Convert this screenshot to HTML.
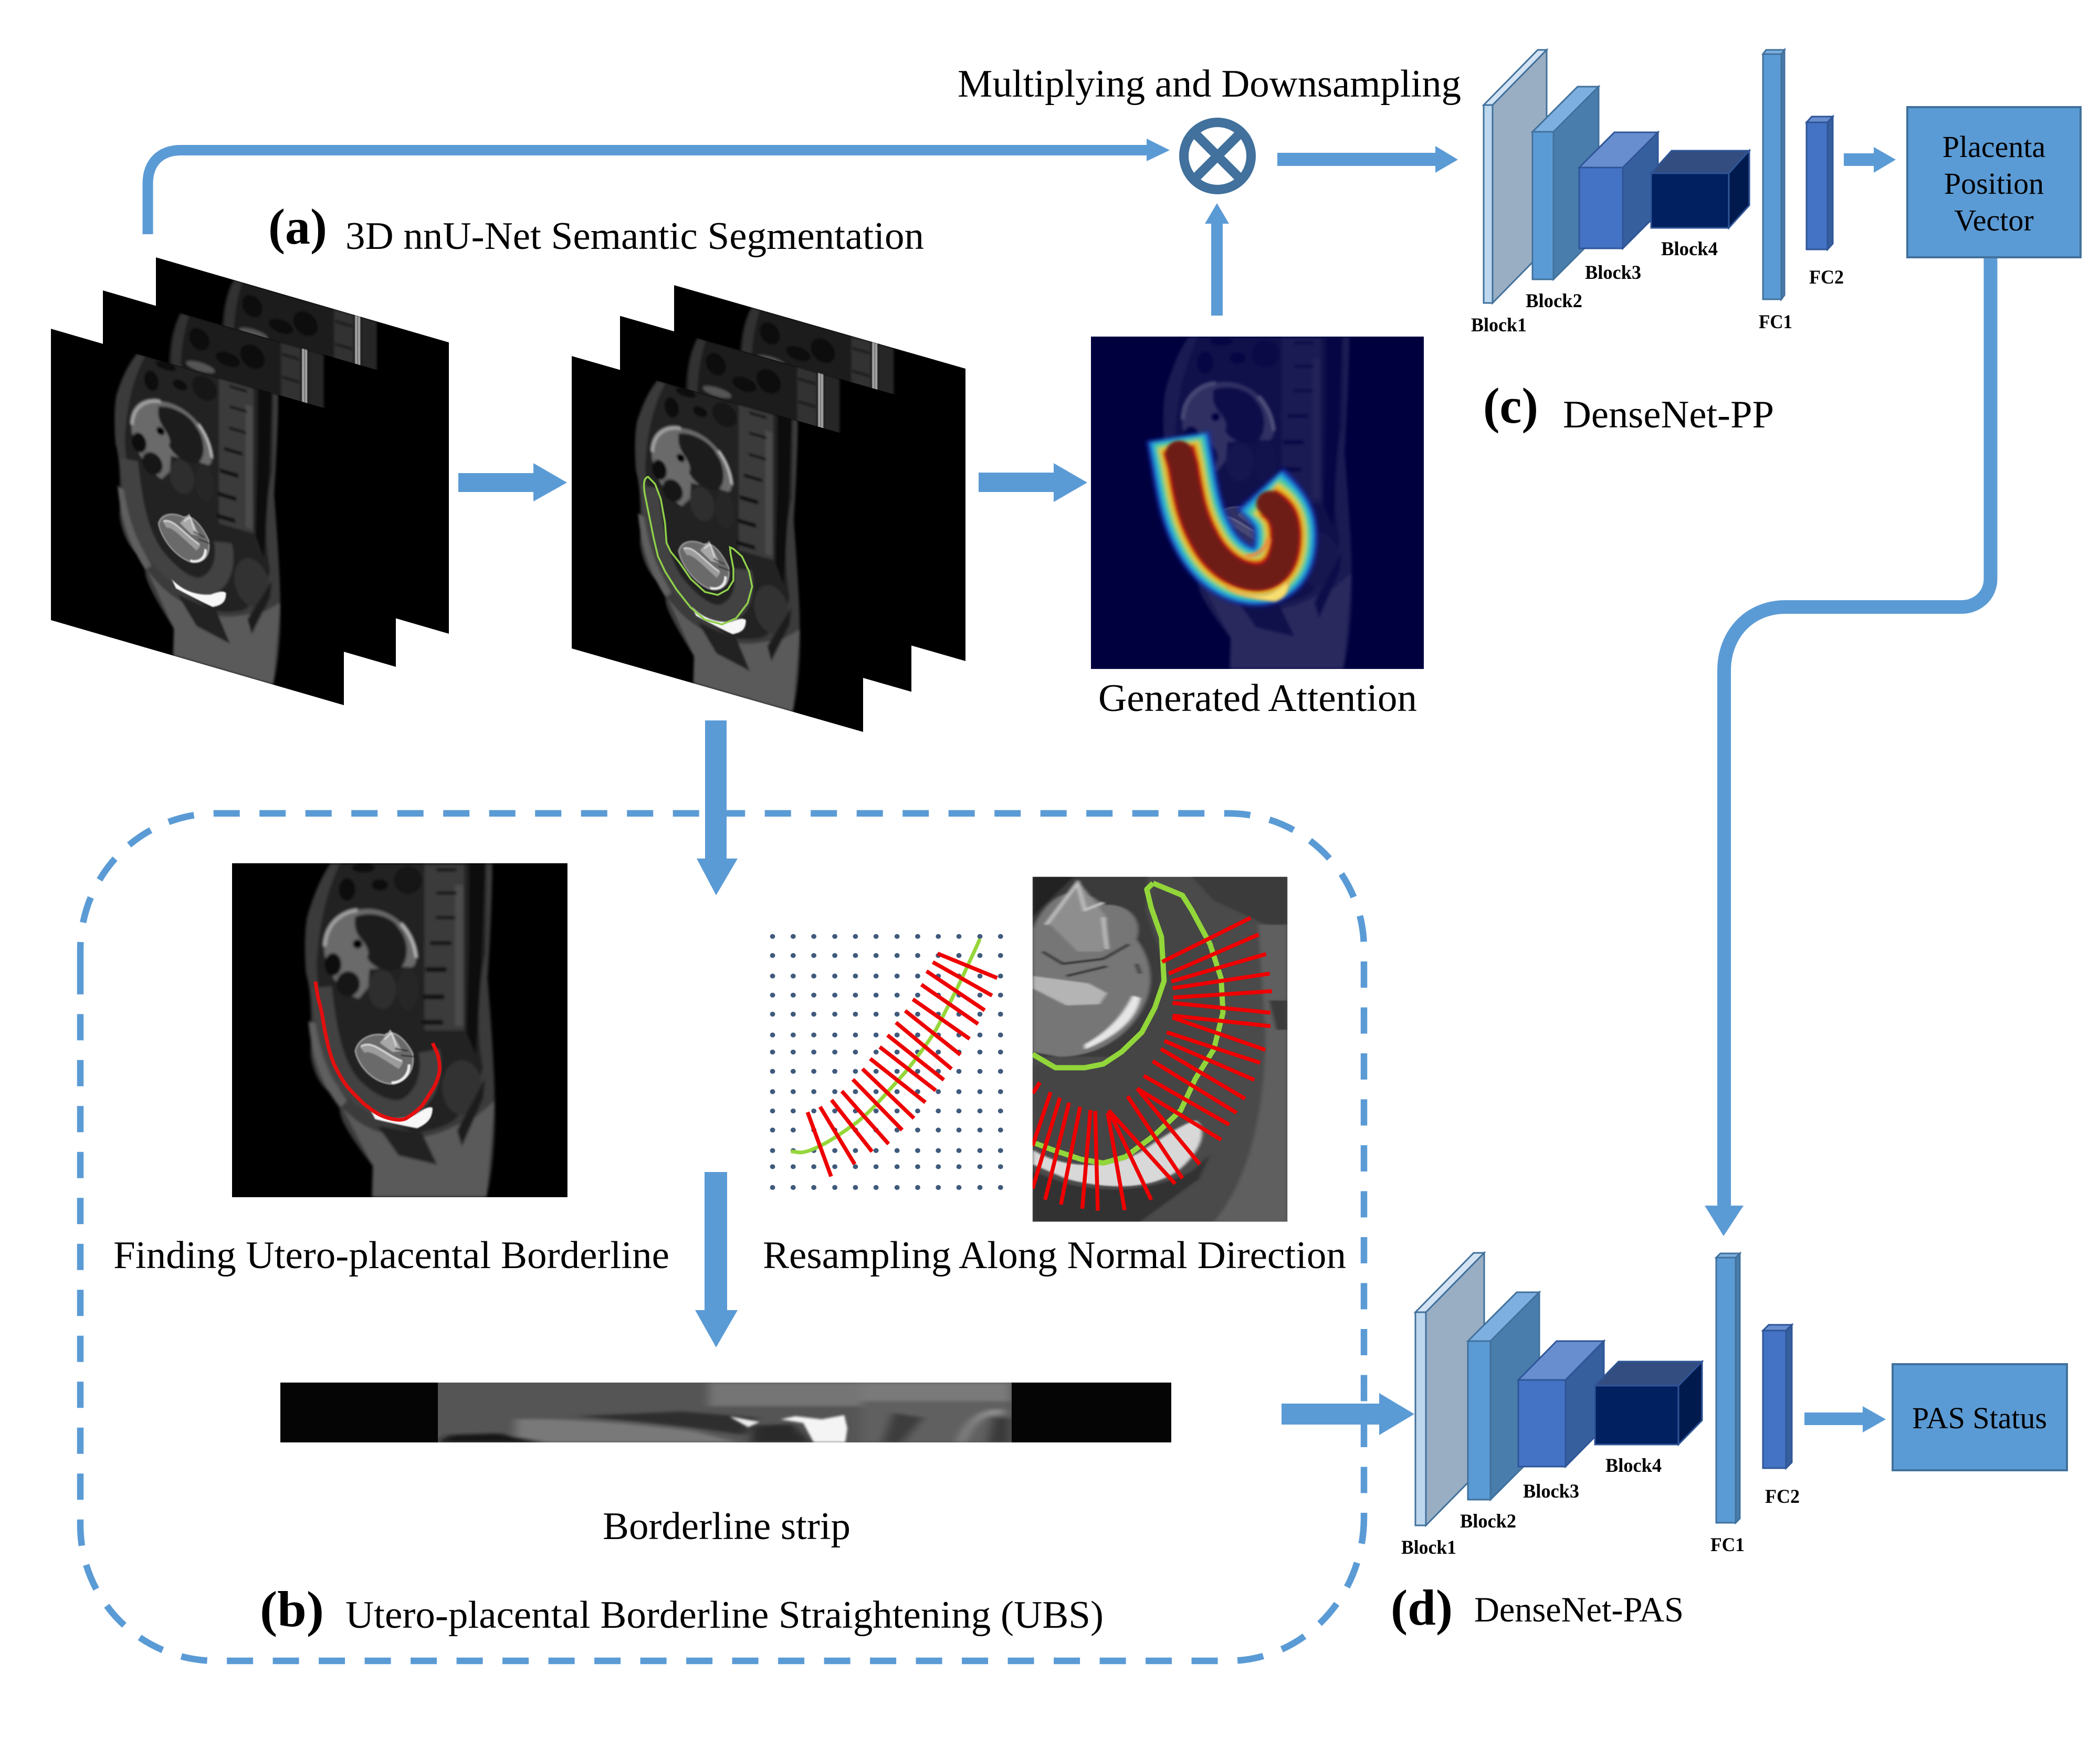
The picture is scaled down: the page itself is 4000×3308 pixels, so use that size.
<!DOCTYPE html>
<html>
<head>
<meta charset="utf-8">
<style>
html,body{margin:0;padding:0;background:#fff}
svg{display:block}
text{font-family:"Liberation Serif","Times New Roman",serif;fill:#000}
.t{font-size:74px}
.b{font-size:37px;font-weight:bold}
.p{font-size:96px;font-weight:bold}
</style>
</head>
<body>
<svg xmlns="http://www.w3.org/2000/svg" width="4000" height="3308" viewBox="0 0 4000 3308">
<defs>
<clipPath id="mc"><rect x="49" y="55" width="1432" height="1468"/></clipPath>
<clipPath id="cc"><rect x="808" y="64" width="692" height="1411"/></clipPath>
<filter id="b3" x="-5%" y="-5%" width="110%" height="110%"><feGaussianBlur stdDeviation="6"/></filter>
<filter id="b2" x="-5%" y="-5%" width="110%" height="110%"><feGaussianBlur stdDeviation="2.5"/></filter>
<filter id="b1" x="-5%" y="-5%" width="110%" height="110%"><feGaussianBlur stdDeviation="5 3"/></filter>
<filter id="bh" filterUnits="userSpaceOnUse" x="0" y="0" width="1568" height="1568"><feGaussianBlur stdDeviation="8"/></filter>
<filter id="bc" filterUnits="userSpaceOnUse" x="0" y="0" width="1568" height="1568"><feGaussianBlur stdDeviation="6"/></filter>
<filter id="bs" x="-10%" y="-30%" width="120%" height="160%"><feGaussianBlur stdDeviation="9 3"/></filter>

<g id="mri" clip-path="url(#mc)">
 <rect x="49" y="55" width="1432" height="1468" fill="#000"/>
 <g filter="url(#b3)">
  <path d="M470,55 C420,130 390,220 370,290 C355,370 360,480 365,540 C395,640 385,800 385,900 C400,1000 440,1050 500,1090 L510,1140 C505,1190 600,1320 650,1385 L645,1523 L1135,1523 C1165,1400 1175,1200 1170,1100 C1170,950 1150,700 1140,560 C1150,400 1160,200 1160,55 Z" fill="#3a3a3a"/>
  <path d="M510,55 C450,180 420,330 410,500 C420,700 450,880 510,1010 C600,1130 680,1190 840,1240 C950,1220 1000,1190 1010,1170 C1060,1100 1110,1020 1120,950 C1090,800 1100,600 1130,450 L1135,55 Z" fill="#242424"/>
  <path d="M520,1130 C600,1220 700,1260 840,1260 C950,1250 1010,1200 1090,1170 L1170,1100 L1135,1523 L650,1523 L650,1385 Z" fill="#5a5a5a"/>
  <path d="M375,750 C390,900 420,1010 510,1130 L540,1100 C470,1000 430,880 410,760 Z" fill="#5e5e5e"/>
  <ellipse cx="1030" cy="1040" rx="85" ry="120" fill="#333"/>
  <path d="M670,1210 L860,1240 L925,1380 L760,1340 Z" fill="#222"/>
  <path d="M1010,1230 L1130,1000 L1120,1090 L1030,1300 Z" fill="#1c1c1c"/>
  <path d="M1060,55 L1130,55 L1115,500 L1090,900 L1050,800 L1060,400 Z" fill="#111"/>
  <rect x="870" y="60" width="170" height="730" fill="#3a3a3a"/>
  <rect x="1000" y="150" width="35" height="620" fill="#4c4c4c"/>
  <rect x="922" y="78" width="85" height="12" fill="#0c0c0c"/>
  <rect x="922" y="180" width="85" height="12" fill="#0c0c0c"/>
  <rect x="918" y="288" width="85" height="12" fill="#0c0c0c"/>
  <rect x="895" y="398" width="90" height="16" fill="#080808"/>
  <rect x="875" y="512" width="90" height="20" fill="#080808"/>
  <rect x="865" y="632" width="90" height="20" fill="#080808"/>
  <rect x="860" y="744" width="90" height="20" fill="#080808"/>
  <path d="M430,600 C450,800 480,950 560,1040 C650,1130 740,1160 800,1130 C880,1080 910,980 890,880" fill="none" stroke="#424242" stroke-width="90"/>
  <path d="M445,400 C450,300 540,260 590,260 C700,240 800,310 835,430 C840,490 830,520 800,510 L635,520 L630,600 L590,650 C500,620 430,500 445,400 Z" fill="#6a6a6a"/>
  <path d="M445,420 C450,310 530,265 585,262" fill="none" stroke="#a8a8a8" stroke-width="14"/>
  <path d="M575,290 C640,260 740,290 760,340 C800,380 810,470 770,515 C720,540 650,520 625,470 C640,440 620,420 610,400 C570,360 570,320 575,290 Z" fill="#1c1c1c"/>
  <ellipse cx="480" cy="500" rx="36" ry="50" fill="#0e0e0e"/>
  <ellipse cx="545" cy="585" rx="50" ry="55" fill="#141414"/>
  <circle cx="585" cy="410" r="20" fill="#000"/>
  <path d="M770,320 Q825,380 835,470" fill="none" stroke="#c8c8c8" stroke-width="10"/>
  <ellipse cx="690" cy="610" rx="60" ry="85" fill="#2e2e2e"/>
  <ellipse cx="800" cy="610" rx="45" ry="90" fill="#282828"/>
  <ellipse cx="540" cy="170" rx="35" ry="50" fill="#0e0e0e"/>
  <ellipse cx="680" cy="150" rx="35" ry="25" fill="#0c0c0c"/>
  <ellipse cx="610" cy="75" rx="50" ry="20" fill="#0c0c0c"/>
  <ellipse cx="800" cy="130" rx="60" ry="60" fill="#181818"/>
 </g>
 <g filter="url(#b2)">
  <path d="M575,880 C590,820 650,800 700,810 C740,780 790,830 820,890 C830,960 800,1010 740,1025 C670,1030 590,960 575,880 Z" fill="#6a6a6a" stroke="#a0a0a0" stroke-width="6"/>
  <path d="M605,875 C640,850 700,900 770,945" fill="none" stroke="#9c9c9c" stroke-width="34"/>
  <path d="M600,860 C650,830 690,890 775,925" fill="none" stroke="#dcdcdc" stroke-width="7"/>
  <path d="M680,845 L725,785 L775,880 L735,885 Z" fill="#a8a8a8"/>
  <path d="M700,830 L730,800 L750,860" fill="none" stroke="#e4e4e4" stroke-width="5"/>
  <path d="M770,900 L825,905 M745,870 L800,880" fill="none" stroke="#2a2a2a" stroke-width="6"/>
  <path d="M805,940 C805,990 770,1020 730,1020" fill="none" stroke="#f0f0f0" stroke-width="11"/>
  <path d="M640,1140 C700,1190 780,1180 830,1160 C860,1140 890,1120 905,1130 C905,1180 880,1200 840,1220 C780,1210 700,1190 660,1180 Z" fill="#f7f7f7"/>
 </g>
</g>

<g id="mriB" clip-path="url(#mc)">
 <rect x="49" y="55" width="1432" height="1468" fill="#000"/>
 <g filter="url(#b3)">
  <path d="M430,55 C390,130 360,250 370,500 L1130,700 L1130,55 Z" fill="#1c1c1c"/>
  <path d="M430,55 C400,130 380,230 385,330 L430,330 C430,220 450,130 470,55 Z" fill="#333"/>
  <ellipse cx="520" cy="160" rx="50" ry="55" fill="#0a0a0a"/>
  <ellipse cx="660" cy="220" rx="60" ry="35" fill="#0c0c0c"/>
  <ellipse cx="780" cy="170" rx="60" ry="60" fill="#101010"/>
  <ellipse cx="526" cy="298" rx="70" ry="22" fill="#555"/>
  <rect x="920" y="55" width="95" height="700" fill="#333"/>
  <rect x="925" y="110" width="85" height="10" fill="#080808"/>
  <rect x="925" y="225" width="85" height="10" fill="#080808"/>
  <rect x="925" y="340" width="85" height="10" fill="#080808"/>
  <rect x="1055" y="55" width="70" height="700" fill="#262626"/>
 </g>
 <g filter="url(#b2)">
  <rect x="1022" y="55" width="26" height="700" fill="#b0b0b0"/>
  <rect x="1032" y="55" width="6" height="700" fill="#555"/>
 </g>
</g>

<g id="dr" fill="#3f5a7c">
 <ellipse cx="102" cy="0" rx="7" ry="10"/><ellipse cx="158" cy="0" rx="7" ry="10"/><ellipse cx="214" cy="0" rx="7" ry="10"/><ellipse cx="271" cy="0" rx="7" ry="10"/><ellipse cx="327" cy="0" rx="7" ry="10"/><ellipse cx="383" cy="0" rx="7" ry="10"/><ellipse cx="440" cy="0" rx="7" ry="10"/><ellipse cx="496" cy="0" rx="7" ry="10"/><ellipse cx="552" cy="0" rx="7" ry="10"/><ellipse cx="608" cy="0" rx="7" ry="10"/><ellipse cx="665" cy="0" rx="7" ry="10"/><ellipse cx="721" cy="0" rx="7" ry="10"/>
</g>
</defs>

<!-- stack 1 -->
<use href="#mriB" transform="matrix(.38966,.11313,0,.37807,277.91,463.67)"/>
<use href="#mriB" transform="matrix(.38966,.11313,0,.37807,176.91,526.67)"/>
<use href="#mri" transform="matrix(.38966,.11313,0,.37807,77.91,599.67)"/>

<!-- stack 2 -->
<use href="#mriB" transform="matrix(.38757,.11103,0,.37943,1265.01,516.69)"/>
<use href="#mriB" transform="matrix(.38757,.11103,0,.37943,1162.01,575.19)"/>
<use href="#mri" transform="matrix(.38757,.11103,0,.37943,1070.01,651.69)"/>
<g transform="translate(1050,520) scale(.5421,.574)">
 <path d="M340,676 C325,680 322,700 330,740 L345,810 L360,880 L375,940 L400,990 L440,1050 L490,1110 L540,1150 L600,1166 L650,1145 L690,1095 L706,1040 L695,990 L670,940 L640,915 L628,910 L630,930 L640,980 L640,1020 L620,1050 L585,1068 L540,1058 L490,1015 L450,960 L420,925 L405,895 L400,830 L385,750 L365,700 Z" fill="none" stroke="#8fd04a" stroke-width="3.5" vector-effect="non-scaling-stroke"/>
</g>

<!-- attention -->
<rect x="2078" y="641" width="634" height="633" fill="#00003f"/>
<use href="#mri" transform="matrix(.4427,0,0,.4312,2056.3,617.3)" style="mix-blend-mode:screen;opacity:.45"/>
<g transform="translate(2000,600) scale(.5102,.4783)" fill="none" stroke-linejoin="round">
 <g filter="url(#bh)">
  <path d="M478,482 L497,600 C515,720 530,800 570,880 C620,990 700,1040 770,1040 C860,1040 880,950 880,880 C880,810 860,770 785,690" stroke="#1a30b0" stroke-width="240" opacity=".9"/>
  <path d="M478,490 L497,600 C515,720 530,800 570,880 C620,990 700,1040 770,1040 C860,1040 880,950 880,880 C880,810 860,770 790,702" stroke="#1fa0e0" stroke-width="212"/>
  <path d="M480,500 L497,600 C515,720 530,800 570,880 C620,990 700,1040 770,1040 C860,1040 880,950 880,880 C880,810 860,770 797,715" stroke="#55d090" stroke-width="185"/>
  <path d="M480,515 L497,600 C515,720 530,800 570,880 C620,990 700,1040 770,1040 C860,1040 880,950 880,880 C880,810 860,770 805,730" stroke="#e8c828" stroke-width="155"/>
  <path d="M480,528 L497,600 C515,720 530,800 570,880 C620,990 700,1040 770,1040 C860,1040 880,950 880,880 C880,810 860,770 810,745" stroke="#c81212" stroke-width="125"/>
 </g>
</g>
<g transform="translate(2000,600) scale(.5102,.4783)" fill="none" filter="url(#bc)">
 <path d="M482,550 L497,600 C515,720 530,800 570,880 C620,990 700,1040 770,1045 C860,1045 880,950 880,880 C880,810 860,780 820,750" stroke="#6e1c18" stroke-width="100" stroke-linecap="round"/>
 <path d="M660,1075 C700,1110 780,1130 830,1105 C860,1085 885,1065 888,1060 C895,1095 880,1125 840,1140 C780,1135 700,1115 670,1090 Z" fill="#f8e070" stroke="#f07020" stroke-width="3"/>
 <path d="M730,960 C770,960 810,930 815,890" stroke="#f08840" stroke-width="14"/>
</g>

<!-- finding panel -->
<use href="#mri" transform="matrix(.4462,0,0,.4332,420.1,1620.2)"/>
<g transform="translate(420,1620) scale(.4464,.4337)">
 <path d="M405,575 L415,640 L430,700 L445,790 L460,860 C470,900 480,930 490,950 C510,990 525,1015 540,1035 C565,1065 590,1090 610,1110 C640,1135 660,1150 680,1160 C710,1175 735,1180 760,1182 C780,1182 790,1178 800,1170 C825,1155 845,1135 860,1120 C880,1090 895,1065 910,1040 C925,1010 933,985 935,960 C935,930 930,905 925,890 L905,845" fill="none" stroke="#e30f0f" stroke-width="7" stroke-linejoin="round" vector-effect="non-scaling-stroke"/>
</g>

<!-- resampling diagram -->
<g transform="translate(1400,1640) scale(.7015,.4655)">
 <use href="#dr" y="308"/><use href="#dr" y="386"/><use href="#dr" y="470"/><use href="#dr" y="548"/><use href="#dr" y="626"/><use href="#dr" y="711"/><use href="#dr" y="781"/><use href="#dr" y="860"/><use href="#dr" y="943"/><use href="#dr" y="1022"/><use href="#dr" y="1100"/><use href="#dr" y="1184"/><use href="#dr" y="1250"/><use href="#dr" y="1335"/>
 <path d="M665,318 C650,370 640,400 625,450 C610,500 600,530 580,590 C565,630 555,670 535,715 C520,750 505,780 475,840 C460,870 440,900 405,960 C390,985 370,1020 330,1070 C310,1090 290,1115 250,1150 C220,1175 195,1192 175,1192 L152,1187" fill="none" stroke="#95d63a" stroke-width="7" vector-effect="non-scaling-stroke"/>
 <path vector-effect="non-scaling-stroke" d="M550,378L712,478M537,413L698,550M520,450L678,610M506,505L660,666M483,565L637,727M462,612L612,792M437,660L588,850M414,712L567,895M393,760L545,938M367,808L517,987M346,850L486,1052M320,893L454,1100M290,941L417,1157M262,977L372,1188M231,1005L325,1240M197,1027L261,1290" fill="none" stroke="#ee0000" stroke-width="7.5"/>
</g>

<!-- close-up -->
<g transform="translate(1400,1640) scale(.7015,.4655)" clip-path="url(#cc)">
 <rect x="808" y="64" width="692" height="1411" fill="#4a4a4a"/>
 <g filter="url(#b1)">
  <path d="M808,64 H1120 L1115,200 L1160,400 L1150,600 L1050,800 L808,800 Z" fill="#3a3a3a"/>
  <path d="M808,64 H920 L840,180 L808,230 Z" fill="#202020"/>
  <path d="M1240,64 H1500 V300 L1400,230 L1300,160 Z" fill="#3a3a3a"/>
  <path d="M1420,260 H1500 V1475 H1300 C1400,1300 1440,1000 1440,700 Z" fill="#5e5e5e"/>
  <path d="M1450,570 H1500 V690 H1470 Z" fill="#3a3a3a"/>
  <path d="M1135,90 L1215,140 L1240,200 L1290,340 L1320,480 L1325,620 L1300,770 L1250,890 L1210,1020 L1140,1120 L1060,1210 L1000,1235 L940,1220 L860,1180 L808,1150 L808,830 L870,845 L950,845 L1000,830 L1050,780 L1105,700 L1140,600 L1165,490 L1158,310 L1130,190 Z" fill="#454545"/>
  <path d="M808,280 C850,130 930,80 1000,180 C1060,170 1110,230 1090,320 C1130,400 1140,500 1110,590 C1080,690 1000,800 880,800 L808,780 Z" fill="#767676"/>
  <path d="M935,90 L1010,230 L1000,370 L930,370 L850,250 Z" fill="#8e8e8e"/>
  <path d="M808,470 L960,500 L1010,540 L990,585 L900,590 L808,520 Z" fill="#b4b4b4"/>
  <path d="M950,770 C1030,720 1090,650 1100,560 L1080,550 C1050,640 1010,700 950,750 Z" fill="#e6e6e6"/>
  <path d="M845,260 L930,90 L950,200 L1000,170 M1000,230 L1010,360" fill="none" stroke="#c4c4c4" stroke-width="9"/>
  <path d="M835,370 L890,420 L1000,400 L1070,340 M1090,420 L1100,460 M900,470 L1010,430" fill="none" stroke="#383838" stroke-width="10"/>
  <path d="M808,1180 C900,1270 1040,1260 1120,1170 C1200,1090 1230,1070 1250,1060 C1290,1100 1260,1200 1200,1270 C1120,1350 1000,1340 900,1300 L808,1240 Z" fill="#d8d8d8"/>
  <path d="M808,1270 L900,1320 C1000,1355 1120,1360 1240,1270 L1290,1200 L1260,1300 L1100,1475 L808,1475 Z" fill="#323232"/>
 </g>
 <path d="M1135,90 L1118,115 L1130,190 L1158,310 L1165,490 L1140,600 L1105,700 L1050,780 L1000,830 L950,845 L870,845 L808,790 M1135,90 L1215,140 L1240,200 L1290,340 L1320,480 L1325,620 L1300,770 L1250,890 L1210,1020 L1140,1120 L1060,1210 L1000,1235 L940,1220 L860,1180 L808,1150" fill="none" stroke="#92d63a" stroke-width="10" vector-effect="non-scaling-stroke" stroke-linejoin="round"/>
 <path d="M1160,412L1400,232M1178,460L1422,300M1185,492L1442,380M1188,520L1452,460M1190,558L1458,532M1188,580L1454,620M1188,632L1454,675M1188,640L1440,772M1172,700L1426,825M1166,735L1410,895M1156,768L1385,972M1134,818L1362,1030M1110,878L1342,1078M1092,930L1320,1140M1092,930L1262,1240M1066,962L1215,1298M1015,1020L1195,1320M1015,1020L1130,1385M1012,1030L1058,1428M978,1022L985,1430M965,1018L943,1422M937,1005L885,1405M907,988L842,1385M882,968L808,1340M857,945L808,1165M828,905L808,950" fill="none" stroke="#ee0000" stroke-width="7.5" vector-effect="non-scaling-stroke"/>
</g>

<!-- strip -->
<rect x="534" y="2633" width="1697" height="114" fill="#050505"/>
<clipPath id="sc"><rect x="834" y="2633" width="1093" height="114"/></clipPath>
<g clip-path="url(#sc)">
 <rect x="834" y="2633" width="1093" height="114" fill="#555"/>
 <g filter="url(#bs)">
  <rect x="1350" y="2633" width="300" height="45" fill="#747474"/>
  <rect x="1640" y="2633" width="287" height="35" fill="#7a7a7a"/>
  <path d="M1640,2668 H1927 V2747 H1640 Z" fill="#606060"/>
  <path d="M1097,2697 C1200,2705 1300,2715 1418,2733 L1440,2700 L1300,2688 Z" fill="#2f2f2f"/>
  <path d="M982,2703 C1060,2700 1200,2710 1320,2725 L1407,2747 L982,2747 Z" fill="#797979"/>
  <path d="M834,2747 L856,2733 L950,2730 L1040,2747 Z" fill="#141414"/>
  <path d="M1430,2747 L1435,2715 L1510,2712 L1545,2747 Z" fill="#2a2a2a"/>
  <path d="M1700,2690 L1760,2700 L1720,2747 L1680,2747 Z" fill="#3e3e3e"/>
  <path d="M1830,2747 C1850,2700 1880,2685 1910,2690" fill="none" stroke="#8e8e8e" stroke-width="10"/>
  <path d="M1890,2700 L1925,2700 L1925,2747 L1880,2747 Z" fill="#3a3a3a"/>
 </g>
 <g filter="url(#b2)">
  <path d="M1390,2698 L1405,2700 L1447,2708 L1425,2718 Z" fill="#ececec"/>
  <path d="M1487,2703 L1515,2697 L1565,2703 L1608,2695 L1614,2720 L1610,2747 L1550,2747 L1530,2710 Z" fill="#f4f4f4"/>
 </g>
</g>

<!-- dashed box -->
<path d="M153,1844 V1809 A258,260 0 0 1 411,1549 H2340 A258,258 0 0 1 2598,1807 V2890" fill="none" stroke="#5b9bd5" stroke-width="12.5" stroke-dasharray="50 37.5"/>
<path d="M2598,2890 A258,273 0 0 1 2340,3163 H411 A258,258 0 0 1 153,2905 V1844" fill="none" stroke="#5b9bd5" stroke-width="12.5" stroke-dasharray="50 37.5"/>

<!-- arrows -->
<g fill="#5b9bd5">
 <polygon points="873,901 1016,901 1016,882 1080,919 1016,955 1016,937 873,937"/>
 <polygon points="1864,900 2007,900 2007,882 2071,919 2007,956 2007,937 1864,937"/>
 <polygon points="1343,1372 1384,1372 1384,1635 1405,1635 1364,1705 1327,1635 1343,1635"/>
 <polygon points="1342,2232 1385,2232 1385,2495 1405,2495 1364,2566 1324,2495 1342,2495"/>
 <polygon points="2433,291 2734,291 2734,278 2777,304 2734,329 2734,316 2433,316"/>
 <polygon points="3512,292 3569,292 3569,280 3611,304 3569,329 3569,316 3512,316"/>
 <polygon points="3437,2690 3548,2690 3548,2678 3592,2703 3548,2728 3548,2714 3437,2714"/>
 <polygon points="2441,2673 2627,2673 2627,2653 2694,2693 2627,2733 2627,2713 2441,2713"/>
 <polygon points="2307,601 2307,426 2295,426 2318,387 2341,426 2329,426 2329,601"/>
 <polygon points="2184,264 2228,286 2184,307"/>
 <polygon points="3247,2296 3321,2296 3283,2354"/>
</g>
<path d="M281.5,446 V350 C281.5,310 305,286 345,286 H2190" fill="none" stroke="#5b9bd5" stroke-width="20"/>
<path d="M3791.5,490 V1102 C3791.5,1135 3765,1156 3736,1156 H3401 C3330,1156 3284,1210 3284,1277 V2300" fill="none" stroke="#5b9bd5" stroke-width="26"/>

<!-- multiply -->
<circle cx="2319" cy="297" r="64" fill="#fff" stroke="#41719c" stroke-width="18"/>
<path d="M2276,254 L2362,340 M2362,254 L2276,340" stroke="#41719c" stroke-width="18"/>

<!-- DenseNet-PP -->
<g stroke-width="3">
 <g stroke="#41719c">
  <polygon points="2826,200 2929,95 2946,95 2843,200" fill="#d3e3f3"/>
  <polygon points="2843,200 2946,95 2946,472 2843,577" fill="#9aaec3"/>
  <rect x="2826" y="200" width="17" height="377" fill="#bdd7ee"/>
  <polygon points="2919,251 3005,165 3045,165 2959,251" fill="#7db0e0"/>
  <polygon points="2959,251 3045,165 3045,446 2959,532" fill="#497dab"/>
  <rect x="2919" y="251" width="40" height="281" fill="#5b9bd5"/>
 </g>
 <g stroke="#2f5597">
  <polygon points="3008,319 3075,252 3158,252 3091,319" fill="#698ed0"/>
  <polygon points="3091,319 3158,252 3158,406 3091,473" fill="#365f9e"/>
  <rect x="3008" y="319" width="83" height="154" fill="#4472c4"/>
  <polygon points="3145,330 3184,287 3332,287 3293,330" fill="#334d80"/>
  <polygon points="3293,330 3332,287 3332,391 3293,434" fill="#001a4d"/>
  <rect x="3145" y="330" width="148" height="104" fill="#002060"/>
 </g>
 <g stroke="#41719c">
  <polygon points="3358,103 3364,95 3399,95 3393,103" fill="#7db0e0"/>
  <polygon points="3393,103 3399,95 3399,562 3393,570" fill="#497dab"/>
  <rect x="3358" y="103" width="35" height="467" fill="#5b9bd5"/>
 </g>
 <g stroke="#2f5597">
  <polygon points="3441,233 3451,222 3491,222 3481,233" fill="#698ed0"/>
  <polygon points="3481,233 3491,222 3491,464 3481,475" fill="#365f9e"/>
  <rect x="3441" y="233" width="40" height="242" fill="#4472c4"/>
 </g>
</g>
<rect x="3633" y="204" width="330" height="286" fill="#5b9bd5" stroke="#41719c" stroke-width="4"/>

<!-- DenseNet-PAS -->
<g stroke-width="3">
 <g stroke="#41719c">
  <polygon points="2696,2499 2807,2386 2827,2386 2716,2499" fill="#d3e3f3"/>
  <polygon points="2716,2499 2827,2386 2827,2792 2716,2905" fill="#9aaec3"/>
  <rect x="2696" y="2499" width="20" height="406" fill="#bdd7ee"/>
  <polygon points="2796,2554 2889,2461 2932,2461 2839,2554" fill="#7db0e0"/>
  <polygon points="2839,2554 2932,2461 2932,2763 2839,2856" fill="#497dab"/>
  <rect x="2796" y="2554" width="43" height="302" fill="#5b9bd5"/>
 </g>
 <g stroke="#2f5597">
  <polygon points="2892,2628 2965,2554 3055,2554 2982,2628" fill="#698ed0"/>
  <polygon points="2982,2628 3055,2554 3055,2719 2982,2793" fill="#365f9e"/>
  <rect x="2892" y="2628" width="90" height="165" fill="#4472c4"/>
  <polygon points="3038,2639 3083,2593 3242,2593 3197,2639" fill="#334d80"/>
  <polygon points="3197,2639 3242,2593 3242,2705 3197,2751" fill="#001a4d"/>
  <rect x="3038" y="2639" width="159" height="112" fill="#002060"/>
 </g>
 <g stroke="#41719c">
  <polygon points="3269,2395 3277,2387 3314,2387 3306,2395" fill="#7db0e0"/>
  <polygon points="3306,2395 3314,2387 3314,2892 3306,2900" fill="#497dab"/>
  <rect x="3269" y="2395" width="37" height="505" fill="#5b9bd5"/>
 </g>
 <g stroke="#2f5597">
  <polygon points="3358,2534 3369,2523 3413,2523 3402,2534" fill="#698ed0"/>
  <polygon points="3402,2534 3413,2523 3413,2785 3402,2796" fill="#365f9e"/>
  <rect x="3358" y="2534" width="44" height="262" fill="#4472c4"/>
 </g>
</g>
<rect x="3605" y="2598" width="332" height="202" fill="#5b9bd5" stroke="#41719c" stroke-width="4"/>

<!-- labels -->
<text class="t" x="1824" y="184" textLength="959" lengthAdjust="spacingAndGlyphs">Multiplying and Downsampling</text>
<text class="p" x="511" y="464" textLength="112" lengthAdjust="spacingAndGlyphs">(a)</text>
<text class="t" x="658" y="474" textLength="1102" lengthAdjust="spacingAndGlyphs">3D nnU-Net Semantic Segmentation</text>
<text class="t" x="2092" y="1354" textLength="607" lengthAdjust="spacingAndGlyphs">Generated Attention</text>
<text class="t" x="216" y="2415" textLength="1059" lengthAdjust="spacingAndGlyphs">Finding Utero-placental Borderline</text>
<text class="t" x="1453" y="2415" textLength="1111" lengthAdjust="spacingAndGlyphs">Resampling Along Normal Direction</text>
<text class="t" x="1148" y="2931" textLength="472" lengthAdjust="spacingAndGlyphs">Borderline strip</text>
<text class="p" x="495" y="3097" textLength="122" lengthAdjust="spacingAndGlyphs">(b)</text>
<text class="t" x="658" y="3100" textLength="1444" lengthAdjust="spacingAndGlyphs">Utero-placental Borderline Straightening (UBS)</text>

<text class="p" x="2825" y="805" textLength="105" lengthAdjust="spacingAndGlyphs">(c)</text>
<text class="t" x="2977" y="814" textLength="402" lengthAdjust="spacingAndGlyphs">DenseNet-PP</text>
<text class="p" x="2649" y="3094" textLength="118" lengthAdjust="spacingAndGlyphs">(d)</text>
<text class="t" x="2808" y="3088" textLength="399" lengthAdjust="spacingAndGlyphs" style="font-size:68px">DenseNet-PAS</text>

<g text-anchor="middle">
 <text x="3798" y="299" style="font-size:58px">Placenta</text>
 <text x="3798" y="369" style="font-size:58px">Position</text>
 <text x="3798" y="439" style="font-size:58px">Vector</text>
</g>
<text x="3642" y="2720" textLength="257" lengthAdjust="spacingAndGlyphs" style="font-size:58px">PAS Status</text>

<text class="b" x="2802" y="631" textLength="106" lengthAdjust="spacingAndGlyphs">Block1</text>
<text class="b" x="2906" y="585" textLength="108" lengthAdjust="spacingAndGlyphs">Block2</text>
<text class="b" x="3019" y="531" textLength="107" lengthAdjust="spacingAndGlyphs">Block3</text>
<text class="b" x="3164" y="486" textLength="108" lengthAdjust="spacingAndGlyphs">Block4</text>
<text class="b" x="3350" y="625" textLength="64" lengthAdjust="spacingAndGlyphs">FC1</text>
<text class="b" x="3446" y="540" textLength="66" lengthAdjust="spacingAndGlyphs">FC2</text>

<text class="b" x="2669" y="2959" textLength="105" lengthAdjust="spacingAndGlyphs">Block1</text>
<text class="b" x="2781" y="2909" textLength="107" lengthAdjust="spacingAndGlyphs">Block2</text>
<text class="b" x="2901" y="2852" textLength="107" lengthAdjust="spacingAndGlyphs">Block3</text>
<text class="b" x="3058" y="2803" textLength="107" lengthAdjust="spacingAndGlyphs">Block4</text>
<text class="b" x="3258" y="2954" textLength="65" lengthAdjust="spacingAndGlyphs">FC1</text>
<text class="b" x="3362" y="2862" textLength="66" lengthAdjust="spacingAndGlyphs">FC2</text>
</svg>
</body>
</html>
